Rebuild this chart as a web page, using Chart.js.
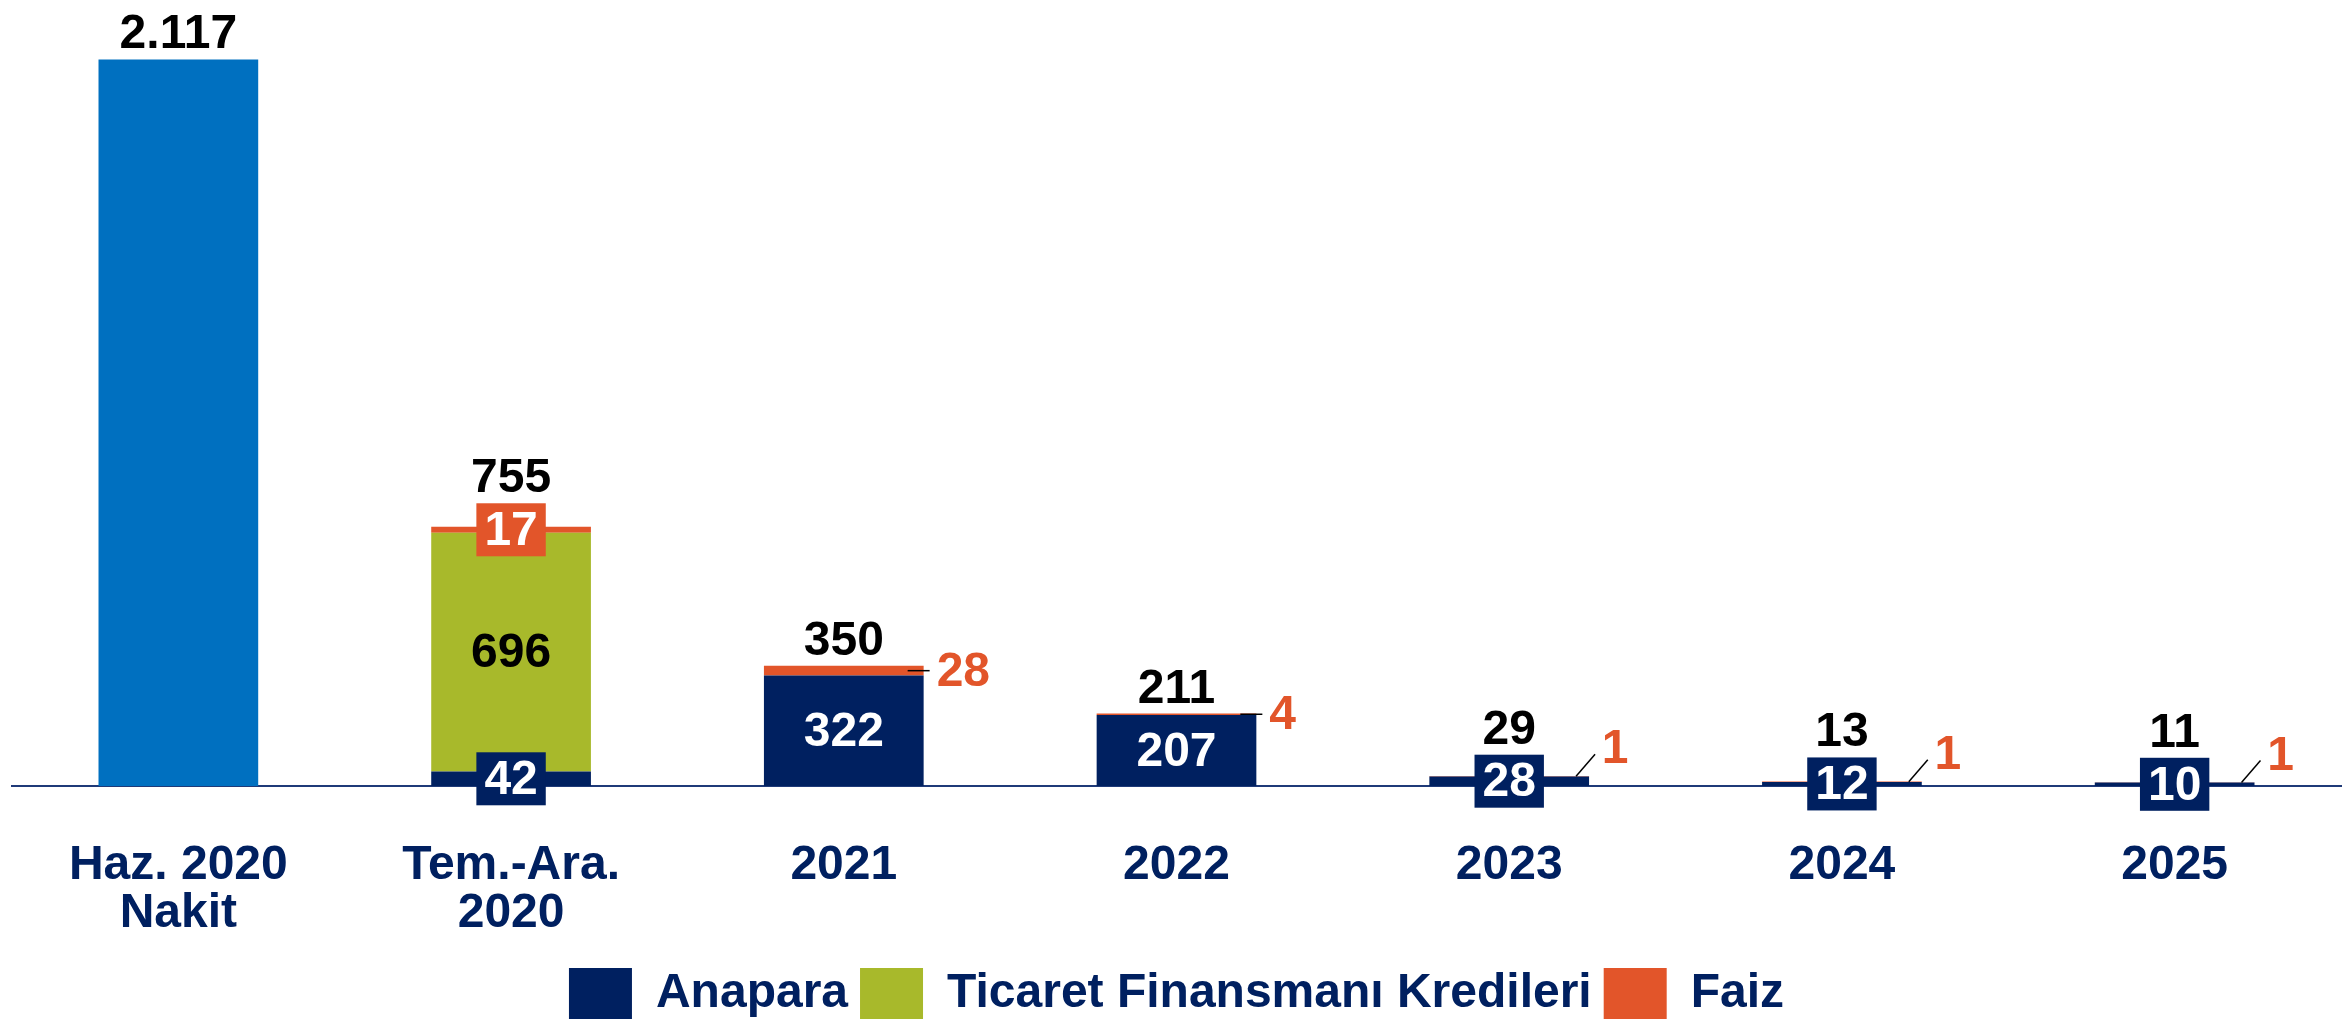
<!DOCTYPE html>
<html>
<head>
<meta charset="utf-8">
<script src="https://cdn.jsdelivr.net/npm/chart.js@4/dist/chart.umd.min.js"></script>
<style>
  html, body { margin: 0; padding: 0; background: #fff; }
  #wrap { width: 2349px; height: 1023px; position: relative; }
</style>
</head>
<body>
<div id="wrap"><canvas id="chart"></canvas></div>
<script>
// Nakit ve borç ödeme takvimi (milyon)
const categories = [['Haz. 2020', 'Nakit'], ['Tem.-Ara.', '2020'], '2021', '2022', '2023', '2024', '2025'];
const nakit    = [2117, null, null, null, null, null, null];
const anapara  = [null, 42, 322, 207, 28, 12, 10];
const ticaret  = [null, 696, null, null, null, null, null];
const faiz     = [null, 17, 28, 4, 1, 1, 1];
const totals   = [2117, 755, 350, 211, 29, 13, 11];

const COLORS = {
  nakit: '#0070C0',
  anapara: '#002060',
  ticaret: '#A8B92B',
  faiz: '#E2552A',
  axis: '#1F3A78'
};
const FONT = '"Liberation Sans", Arial, sans-serif';

// how each segment label is drawn (index-aligned with categories)
const labelModes = {
  1: [null, 'box', 'inside', 'inside', 'box', 'box', 'box'],
  2: [null, 'inside', null, null, null, null, null],
  3: [null, 'box', 'side', 'side', 'slant', 'slant', 'slant']
};

const fmt = v => String(v).replace(/\B(?=(\d{3})+(?!\d))/g, '.');

const valueLabels = {
  id: 'valueLabels',
  afterDatasetsDraw(chart) {
    const ctx = chart.ctx;
    ctx.save();
    ctx.font = 'bold 48px ' + FONT;
    ctx.textAlign = 'center';
    const n = categories.length;
    for (let i = 0; i < n; i++) {
      let topY = Infinity, cx = 0;
      chart.data.datasets.forEach((ds, d) => {
        const v = ds.data[i];
        if (v == null) return;
        const el = chart.getDatasetMeta(d).data[i];
        cx = el.x;
        topY = Math.min(topY, el.y);
        const mode = labelModes[d] ? labelModes[d][i] : null;
        if (!mode) return;
        const mid = (el.y + el.base) / 2;
        const txt = fmt(v);
        const color = ds.backgroundColor;
        if (mode === 'inside') {
          ctx.fillStyle = d === 2 ? '#000' : '#fff';
          ctx.textAlign = 'center';
          ctx.textBaseline = 'middle';
          ctx.fillText(txt, el.x, mid + 2);
        } else if (mode === 'box') {
          const tw = ctx.measureText(txt).width;
          const bw = tw + 16, bh = 53;
          ctx.fillStyle = color;
          ctx.fillRect(el.x - bw / 2, mid - bh / 2, bw, bh);
          topY = Math.min(topY, mid - bh / 2);
          ctx.fillStyle = '#fff';
          ctx.textAlign = 'center';
          ctx.textBaseline = 'middle';
          ctx.fillText(txt, el.x, mid + 2);
        } else if (mode === 'side') {
          const right = el.x + el.width / 2;
          ctx.strokeStyle = '#000';
          ctx.lineWidth = 1.5;
          ctx.beginPath();
          ctx.moveTo(right - 16, mid);
          ctx.lineTo(right + 6, mid);
          ctx.stroke();
          ctx.fillStyle = color;
          ctx.textAlign = 'left';
          ctx.textBaseline = 'middle';
          ctx.fillText(txt, right + 13, mid + 2);
        } else if (mode === 'slant') {
          const right = el.x + el.width / 2;
          ctx.strokeStyle = '#000';
          ctx.lineWidth = 1.5;
          ctx.beginPath();
          ctx.moveTo(right - 13, mid);
          ctx.lineTo(right + 6, mid - 22);
          ctx.stroke();
          ctx.fillStyle = color;
          ctx.textAlign = 'center';
          ctx.textBaseline = 'middle';
          ctx.fillText(txt, right + 26, mid - 26);
        }
      });
      // total above the stack
      ctx.fillStyle = '#000';
      ctx.textAlign = 'center';
      ctx.textBaseline = 'alphabetic';
      ctx.fillText(fmt(totals[i]), cx, topY - 11);
    }
    ctx.restore();
  }
};

new Chart(document.getElementById('chart'), {
  type: 'bar',
  data: {
    labels: categories,
    datasets: [
      { label: 'Nakit', data: nakit, backgroundColor: COLORS.nakit },
      { label: 'Anapara', data: anapara, backgroundColor: COLORS.anapara },
      { label: 'Ticaret Finansmanı Kredileri', data: ticaret, backgroundColor: COLORS.ticaret },
      { label: 'Faiz', data: faiz, backgroundColor: COLORS.faiz }
    ]
  },
  options: {
    responsive: true,
    maintainAspectRatio: false,
    animation: false,
    datasets: { bar: { barPercentage: 0.48, categoryPercentage: 1.0, borderWidth: 0 } },
    layout: { padding: { left: 12, right: 8, top: 0, bottom: -6 } },
    plugins: {
      tooltip: { enabled: false },
      legend: {
        position: 'bottom',
        labels: {
          filter: item => item.text !== 'Nakit',
          boxWidth: 63,
          boxHeight: 51,
          padding: 12,
          color: '#002060',
          font: { family: FONT, size: 48, weight: 'bold' }
        }
      }
    },
    scales: {
      x: {
        stacked: true,
        grid: { display: false, drawTicks: false },
        border: { display: true, color: COLORS.axis, width: 2 },
        ticks: {
          color: '#002060',
          padding: 56,
          maxRotation: 0,
          autoSkip: false,
          font: { family: FONT, size: 48, weight: 'bold', lineHeight: 1.0 }
        },
        afterFit(scale) { scale.height = 170; }
      },
      y: {
        stacked: true,
        display: false,
        min: 0,
        max: 2290
      }
    }
  },
  plugins: [valueLabels]
});
</script>
</body>
</html>
